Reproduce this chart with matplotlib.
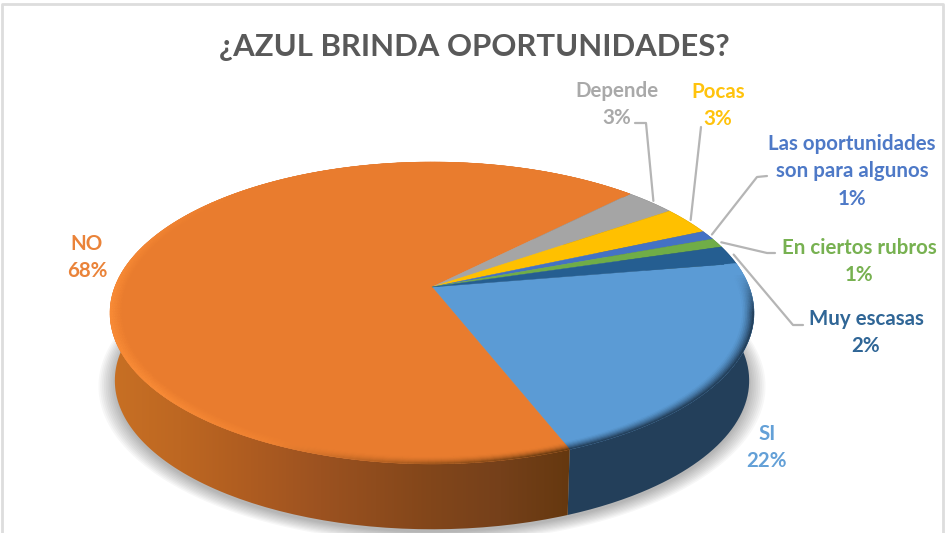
import numpy as np
import matplotlib
matplotlib.use('Agg')
from matplotlib import pyplot as plt
from matplotlib.path import Path
from matplotlib.collections import PolyCollection
from matplotlib.colors import to_rgb

#the data, clockwise from the SI slice
labels = ['SI', 'NO', 'Depende', 'Pocas', 'Las oportunidades\nson para algunos', 'En ciertos rubros', 'Muy escasas']
values = [21.7, 68.3, 3, 3, 1, 1, 2]
colors = ['#5B9BD5', '#E97C2E', '#A5A5A5', '#FFC000', '#4472C4', '#70AD47', '#255E91']
label_pos = [(767, 434), (87, 244), (617, 91), (718, 92), (852, 144), (859, 248), (866, 319)]
# elbow of the leader line, None means no line
elbows = [None, None, [(635, 123), (646, 123)], [(701, 127)], [(767, 176), (757, 177)],
          [(775, 253), (767, 253)], [(803, 325), (793, 325)]]
title = '¿AZUL BRINDA OPORTUNIDADES?'

start_angle = 80.5

#perspective of the disc, picture is in pixels
cx, cy = 432, 287
a, b, k = 146.5, 317.2, 0.172
wall_drop, wall_scale = 68, 0.985

#shading of the side wall, by x pixel
wall_x = [110, 180, 250, 320, 430, 500, 570]
wall_orange = ['#C87024', '#BD6722', '#AE5C20', '#9C5220', '#82461A', '#75401A', '#65380F']


def project(angle, r=1.0, bottom=False):
    t = np.radians(angle)
    u = r * np.sin(t)
    v = r * np.cos(t)
    d = 1 + k * v
    if bottom:
        return cx + wall_scale * b * u / d, cy + wall_drop - wall_scale * a * v / d
    return cx + b * u / d, cy - a * v / d


def mix(c1, c2, f):
    return tuple((1 - f) * np.array(to_rgb(c1)) + f * np.array(to_rgb(c2)))


spans = 3.6 * np.array(values)
starts = start_angle + np.concatenate([[0], np.cumsum(spans)[:-1]])

fig = plt.figure(figsize=(9.48, 5.33), dpi=100)
ax = fig.add_axes([0, 0, 1, 1])
ax.set_xlim(0, 948)
ax.set_ylim(533, 0)
ax.axis('off')

#frame of the pasted chart
ax.plot([2, 2, 943, 943], [533, 4, 4, 533], color='#DDDDDD', lw=2, zorder=1)

#soft shadow under the disc
angs = np.linspace(0, 360, 361)
for grow in np.linspace(1.05, 1.0, 10):
    px, py = project(angs, grow, bottom=True)
    ax.fill(px, py + 3, color='black', alpha=0.03, lw=0, zorder=2)

#side wall, one gradient image per slice clipped to the slice outline
rgb = np.array([to_rgb(c) for c in wall_orange])
xs = np.arange(100, 760)
for s, sp, col in zip(starts, spans, colors):
    t = np.linspace(s, s + sp, 200)
    x0, y0 = project(t)
    x1, y1 = project(t[::-1], bottom=True)
    verts = np.column_stack([np.r_[x0, x1], np.r_[y0, y1]])
    if col == '#E97C2E':
        grad = np.column_stack([np.interp(xs, wall_x, rgb[:, i]) for i in range(3)])
    elif col == '#5B9BD5':
        grad = np.tile(to_rgb('#233F5A'), (len(xs), 1))
    else:
        grad = np.tile(mix(col, 'black', 0.5), (len(xs), 1))
    im = ax.imshow(grad[np.newaxis, :, :], extent=(100, 760, 540, 100), aspect='auto', zorder=3)
    im.set_clip_path(Path(verts), ax.transData)
ax.set_xlim(0, 948)
ax.set_ylim(533, 0)

#top of the slices
for s, sp, col in zip(starts, spans, colors):
    t = np.linspace(s, s + sp, max(int(sp) * 2, 4))
    px, py = project(t)
    ax.fill(np.r_[cx, px], np.r_[cy, py], color=col, lw=0.3, zorder=4)

#bevel on the rim, drawn in rings
rings = np.linspace(0.96, 1.0, 9)
rim_quads, rim_cols = [], []
for s, sp, col in zip(starts, spans, colors):
    edges = np.arange(s, s + sp + 1, 1.0)
    edges[-1] = s + sp
    for a0, a1 in zip(edges[:-1], edges[1:]):
        m = (a0 + a1) / 2
        for i, (r0, r1) in enumerate(zip(rings[:-1], rings[1:])):
            f = i / (len(rings) - 2)
            if col == '#E97C2E':
                light = np.clip((m - 190) / 40, 0, 1) * np.clip((320 - m) / 50, 0, 1)
                dark = np.clip((205 - m) / 45, 0, 1)
                c = mix(col, '#F98B36', light * f)
                c = mix(c, '#683A10', dark * f ** 2)
            elif col == '#5B9BD5':
                c = mix(col, '#233F5A', f ** 1.5 * np.clip((m - 85) / 15, 0, 1))
            else:
                continue
            q = [project(a0, r0), project(a1, r0), project(a1, r1), project(a0, r1)]
            rim_quads.append(q)
            rim_cols.append(c)
ax.add_collection(PolyCollection(rim_quads, facecolors=rim_cols, edgecolors=rim_cols, lw=0.3, zorder=5))

#title and labels
font = 'Lato'
ax.text(474, 47, title, ha='center', va='center', fontsize=22.4, fontweight='bold', color='#595959',
        family=font, zorder=7)

for lab, val, col, pos in zip(labels, values, colors, label_pos):
    for i, part in enumerate(lab.split('\n') + ['%.0f%%' % val]):
        ax.text(pos[0], pos[1] + i * 27.3, part, ha='center', va='center', fontsize=14.8, fontweight='bold',
                color=col, family=font, alpha=0.95, zorder=7)

#leader lines from the rim to the text
for s, sp, elbow in zip(starts, spans, elbows):
    if elbow is None:
        continue
    ex, ey = project(s + sp / 2, 1.015)
    lx = [p[0] for p in elbow] + [ex]
    ly = [p[1] for p in elbow] + [ey]
    ax.plot(lx, ly, color='#B5B5B5', lw=1.6, solid_capstyle='round', solid_joinstyle='round', zorder=6)

fig.savefig('out.png', dpi=100)
